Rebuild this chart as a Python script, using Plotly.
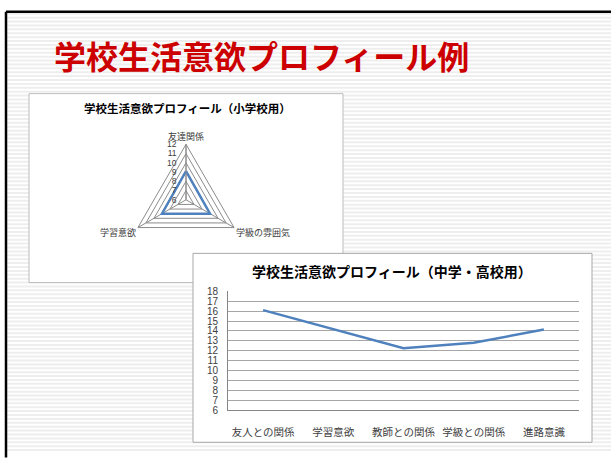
import plotly.graph_objects as go

W, H = 611, 459

# ---- data ----
slide_title = "学校生活意欲プロフィール例"

radar_title = "学校生活意欲プロフィール（小学校用）"
radar_categories = ["友達関係", "学級の雰囲気", "学習意欲"]
radar_values = [9.1, 9.0, 9.0]
radar_range = [6, 12]

line_title = "学校生活意欲プロフィール（中学・高校用）"
line_categories = ["友人との関係", "学習意欲", "教師との関係", "学級との関係", "進路意識"]
line_values = [16.1, 14.2, 12.25, 12.8, 14.15]
line_range = [6, 18]

JP = "Noto Sans CJK JP"
BLUE = "#4F81BD"


def px(x):
    return x / W


def py(y):
    return 1 - y / H


fig = go.Figure()

# radar
fig.add_trace(go.Scatterpolar(
    r=radar_values + radar_values[:1],
    theta=radar_categories + radar_categories[:1],
    mode="lines",
    line=dict(color=BLUE, width=2.5),
    showlegend=False,
    subplot="polar",
))

# line chart
fig.add_trace(go.Scatter(
    x=line_categories, y=line_values,
    mode="lines",
    line=dict(color=BLUE, width=2.5),
    showlegend=False,
    xaxis="x", yaxis="y",
))

shapes = []
# slide stripes
y = 8
while y < H:
    shapes.append(dict(type="line", xref="paper", yref="paper",
                       x0=px(7), x1=1, y0=py(y), y1=py(y),
                       line=dict(color="#EEEEEE", width=2), layer="below"))
    y += 4
# slide border (top + left)
shapes.append(dict(type="line", xref="paper", yref="paper", x0=px(6), x1=1.01,
                   y0=py(6), y1=py(6), line=dict(color="#000000", width=2.5), layer="below"))
shapes.append(dict(type="line", xref="paper", yref="paper", x0=px(6), x1=px(6),
                   y0=py(6), y1=-0.01, line=dict(color="#000000", width=2.5), layer="below"))
# chart boxes
shapes.append(dict(type="rect", xref="paper", yref="paper", x0=px(29), x1=px(343),
                   y0=py(284), y1=py(90), fillcolor="white",
                   line=dict(color="#BDBDBD", width=1), layer="below"))
shapes.append(dict(type="rect", xref="paper", yref="paper", x0=px(193), x1=px(592),
                   y0=py(448), y1=py(254), fillcolor="white",
                   line=dict(color="#A8A8A8", width=1), layer="below"))

annotations = [
    dict(text=slide_title, x=px(52), y=py(50), xref="paper", yref="paper",
         xanchor="left", yanchor="middle", showarrow=False,
         font=dict(family=JP, size=32, color="#CC0000", weight="bold")),
    dict(text=radar_title, x=px(187), y=py(105), xref="paper", yref="paper",
         xanchor="center", yanchor="middle", showarrow=False,
         font=dict(family=JP, size=11.5, color="#000000", weight="bold")),
    dict(text=line_title, x=px(392), y=py(272), xref="paper", yref="paper",
         xanchor="center", yanchor="middle", showarrow=False,
         font=dict(family=JP, size=14, color="#000000", weight="bold")),
]

cx, cy, R = 186, 199, 57
fig.update_layout(
    width=W, height=H,
    margin=dict(l=0, r=0, t=0, b=0),
    paper_bgcolor="white",
    plot_bgcolor="rgba(0,0,0,0)",
    shapes=shapes,
    annotations=annotations,
    font=dict(family=JP, color="#404040"),
    polar=dict(
        domain=dict(x=[px(cx - R), px(cx + R)], y=[py(cy + R), py(cy - R)]),
        bgcolor="rgba(0,0,0,0)",
        gridshape="linear",
        angularaxis=dict(
            direction="clockwise", rotation=90,
            categoryorder="array", categoryarray=radar_categories,
            showline=True, linecolor="#8C8C8C", linewidth=1,
            gridcolor="#8C8C8C", gridwidth=1,
            ticks="", tickfont=dict(size=9, color="#404040"),
        ),
        radialaxis=dict(
            range=radar_range, dtick=1, angle=90, side="counterclockwise",
            tickangle=90,
            showline=True, linecolor="#8C8C8C", linewidth=1,
            gridcolor="#8C8C8C", gridwidth=1,
            ticks="outside", ticklen=6, tickcolor="rgba(0,0,0,0)",
            tickfont=dict(size=8.5, color="#404040", family="Liberation Sans"),
        ),
    ),
    xaxis=dict(
        domain=[px(228), px(579)],
        type="category", range=[-0.5, 4.5],
        showgrid=False, zeroline=False,
        showline=True, linecolor="#868686", linewidth=1,
        ticks="outside", ticklen=12, tickcolor="rgba(0,0,0,0)",
        tickfont=dict(size=10.5, color="#404040"),
        fixedrange=True,
    ),
    yaxis=dict(
        domain=[py(415), py(293)],
        range=line_range, dtick=1,
        showgrid=True, gridcolor="#A6A6A6", gridwidth=1,
        zeroline=False,
        showline=True, linecolor="#868686", linewidth=1,
        ticks="outside", ticklen=7, tickcolor="rgba(0,0,0,0)",
        tickfont=dict(size=10, color="#404040", family="Liberation Sans"),
        fixedrange=True,
    ),
)

fig.write_html("out.html")
